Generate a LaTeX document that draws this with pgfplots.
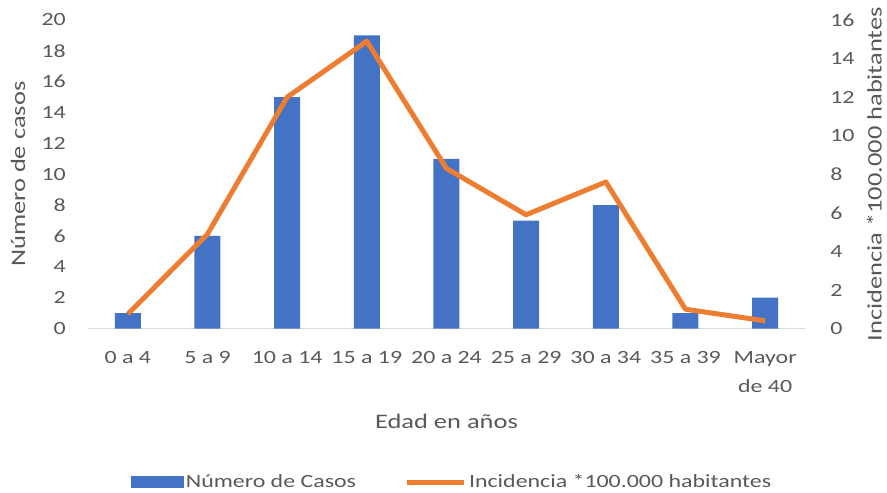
\documentclass[border=0pt]{standalone}
\usepackage{pgfplots}
\pgfplotsset{compat=1.18}
\usepackage{fontspec}
\setmainfont{Carlito}[FakeStretch=1.28]
\definecolor{barblue}{HTML}{4472C4}
\definecolor{lineorange}{HTML}{ED7D31}
\definecolor{txtgray}{HTML}{595959}
\definecolor{axgray}{HTML}{D9D9D9}
\newcommand{\tickfont}{\fontsize{14}{20}\selectfont}
\newcommand{\titlefont}{\fontsize{15.5}{18}\selectfont}
\pgfplotsset{
  base/.style={scale only axis, width=537.75pt, height=231.4pt,
    at={(0pt,0pt)}, anchor=south west,
    xmin=-0.5, xmax=8.5, major tick length=0pt,
    /pgf/number format/assume math mode=true,
    tick label style={font=\tickfont, text=txtgray},
    label style={font=\titlefont, text=txtgray},
    clip=false},
}
\begin{document}
\begin{tikzpicture}
\path[use as bounding box] (-66pt,-122.6pt) rectangle (599.25pt,246.4pt);
\begin{axis}[base, ymin=0, ymax=20, ytick={0,2,...,20},
  axis x line*=bottom, axis y line*=left,
  x axis line style={-, draw=axgray, line width=1.2pt},
  y axis line style={draw=none},
  xtick={0,...,8},
  xticklabels={0 a 4,5 a 9,10 a 14,15 a 19,20 a 24,25 a 29,30 a 34,35 a 39,{Mayor\\[2pt]de 40}},
  xticklabel style={align=center, anchor=north, inner sep=0pt, yshift=-17pt},
  yticklabel style={anchor=east, inner sep=0pt, xshift=-16.5pt},
  xlabel={Edad en años},
  xlabel style={at={(axis description cs:0.5,-0.30)}, anchor=center},
  ylabel={Número de casos},
  ylabel style={at={(axis description cs:-0.0976,0.5)}, anchor=center}]
\addplot[ybar, bar width=19.5pt, fill=barblue, draw=none] coordinates {
  (0,1) (1,6) (2,15) (3,19) (4,11) (5,7) (6,8) (7,1) (8,2)};
\end{axis}
\begin{axis}[base, ymin=0, ymax=16, ytick={0,2,...,16},
  axis y line*=right, axis x line=none,
  y axis line style={draw=none},
  yticklabel style={anchor=west, inner sep=0pt, xshift=18.75pt},
  ylabel={Incidencia *100.000 habitantes},
  ylabel style={at={(axis description cs:1.0966,0.5)}, anchor=center},
  legend style={at={(0.508,-0.4976)}, anchor=center, draw=none, fill=none,
    font=\tickfont, text=txtgray, legend columns=2,
    /tikz/every even column/.append style={column sep=34pt}},
  legend cell align=left]
\addlegendimage{legend image code/.code={\fill[barblue] (0pt,-4.25pt) rectangle (39pt,4.25pt);}}
\addlegendentry{Número de Casos}
\addplot[lineorange, line width=3.75pt, line join=round,
  legend image code/.code={\draw[lineorange, line width=3.75pt] (0pt,0pt) -- (43pt,0pt);}]
  coordinates {(0,0.75) (1,4.9) (2,12.0) (3,14.9) (4,8.3) (5,5.9) (6,7.6) (7,1.0) (8,0.4)};
\addlegendentry{Incidencia *100.000 habitantes}
\end{axis}
\end{tikzpicture}
\end{document}
